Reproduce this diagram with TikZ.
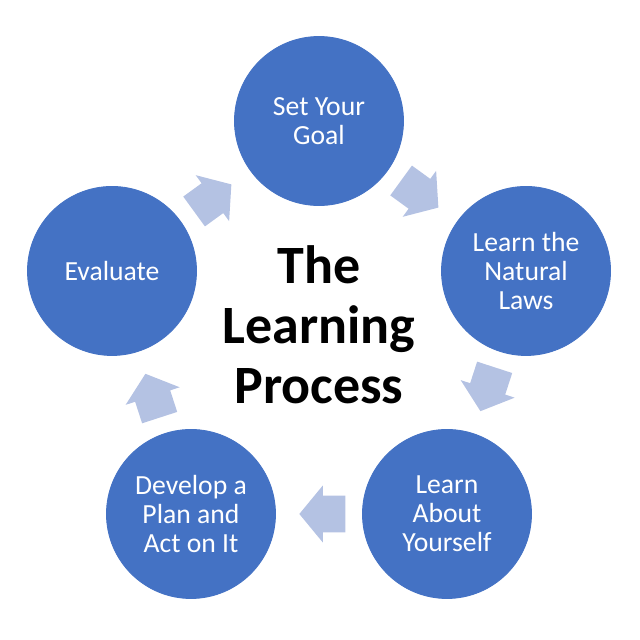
\documentclass[tikz,border=0pt]{standalone}
\usepackage{fontspec}
\setmainfont{Carlito}
\usepackage{xcolor}
\usetikzlibrary{shapes.arrows, calc}
\definecolor{stageblue}{RGB}{68,114,196}
\definecolor{flowblue}{RGB}{180,194,227}

\begin{document}
\begin{tikzpicture}[
  x=1cm,y=1cm,
  stage/.style={
    circle, fill=stageblue, draw=stageblue,
    minimum size=2.64cm, inner sep=0pt,
    align=center, text=white,
    font=\fontsize{12.3}{12.9}\selectfont
  },
  flow/.style={
    single arrow, fill=flowblue, draw=none,
    inner xsep=0pt, inner ysep=0.281cm,
    minimum height=0.72cm,
    single arrow head extend=0.156cm,
    single arrow tip angle=101
  },
  title/.style={
    align=center, font=\fontsize{24}{26.7}\selectfont\bfseries
  }
]

% ---- canvas ----
\useasboundingbox (0,0) rectangle (10,10);

% ---- Five stages round the cycle ----
\node[stage] (goal) at (4.984, 8.109) {Set Your\\Goal};
\node[stage] (laws) at (8.219, 5.766) {Learn the\\Natural\\Laws};
\node[stage] (self) at (6.984, 1.969) {Learn\\About\\Yourself};
\node[stage] (plan) at (2.984, 1.969) {Develop a\\Plan and\\Act on It};
\node[stage] (eval) at (1.750, 5.766) {Evaluate};

% ---- Title in the middle ----
\node[title] (hub) at (4.984, 4.92) {The\\Learning\\Process};

% ---- Block arrows, clockwise (tail set back from the midpoint) ----
\foreach \a/\b/\ang in {goal/laws/-36, laws/self/-108, self/plan/180, plan/eval/108, eval/goal/36} {
  \coordinate (\a-mid) at ($(\a)!0.5!(\b)$);
  \node[flow, rotate=\ang, anchor=tail] (\a-\b) at ($(\a-mid)!0.42cm!(\a)$) {};
}

\end{tikzpicture}
\end{document}
